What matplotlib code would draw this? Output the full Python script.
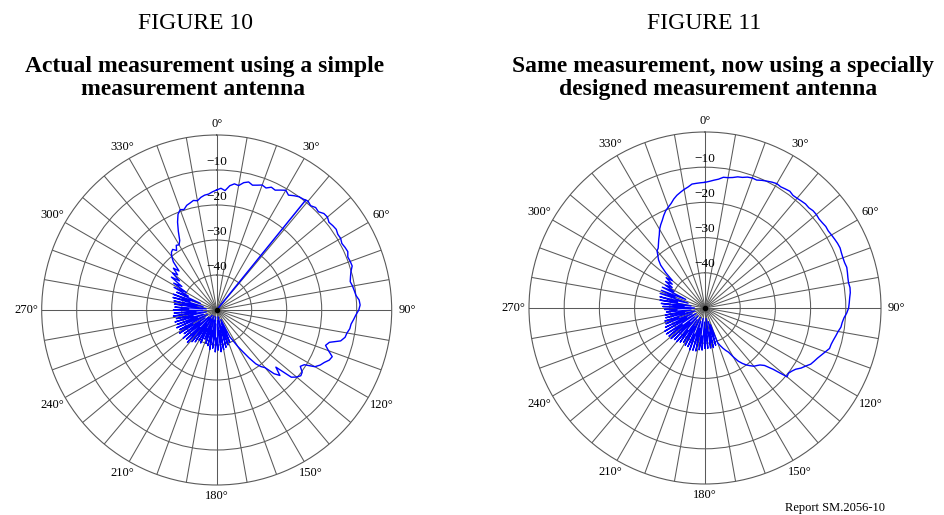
import numpy as np
import matplotlib
matplotlib.use('Agg')
import matplotlib.pyplot as plt

plt.rcParams['font.family'] = ['Liberation Serif', 'DejaVu Serif']

# Azimuth grid of the measurements (degrees, clockwise from north)
angles_deg = list(range(0, 360, 2))

# FIGURE 10: simple measurement antenna (dB)
fig10_db = [
    -15.7, -15.2, -15.8, -14.3, -13.6, -13.9, -12.8, -12.3, -12.9, -12.5,
    -12.0, -12.4, -11.6, -11.9, -11.2, -10.5, -11.3, -10.6, -10.0, -9.8,
    -9.4, -9.9, -9.3, -9.6, -8.8, -8.7, -9.3, -9.0, -8.8, -9.2,
    -9.1, -9.5, -9.2, -9.0, -9.6, -9.4, -9.3, -10.1, -10.6, -11.0,
    -10.6, -10.3, -10.0, -9.2, -9.0, -9.4, -10.2, -10.8, -11.4, -11.6,
    -12.2, -12.5, -13.5, -16.5, -17.3, -16.0, -14.4, -14.8, -15.8, -16.5,
    -17.6, -20.5, -21.2, -19.8, -19.5, -20.2, -21.3, -26.5, -24.0, -25.5,
    -28.5, -29.5, -31.0, -33.5, -36.0, -38.0, -40.0, -41.5,
    # back lobe, 156 deg onwards
    -47.0, -40.0, -46.0, -39.5, -45.0, -39.0, -48.0, -38.5, -44.0, -38.0,
    -47.0, -38.5, -42.0, -38.0, -46.0, -39.0, -48.0, -38.5, -44.0, -39.5,
    -47.0, -40.0, -45.0, -41.0, -48.0, -39.5, -44.0, -40.0, -47.0, -39.0,
    -45.0, -38.5, -48.0, -37.5, -43.0, -38.0, -47.0, -37.5, -44.0, -38.5,
    -46.0, -37.5, -42.0, -38.0, -47.0, -37.5, -44.0, -38.0, -46.0, -37.6,
    -43.0, -38.2, -47.0, -37.5, -44.0, -37.8, -46.0, -37.6, -42.0, -38.0,
    -47.0, -37.8, -44.0, -37.5, -46.0, -37.0, -42.0, -36.8, -45.0, -37.5,
    -41.0, -36.2, -40.0,
    # 302 deg onwards
    -35.5, -38.0, -34.0, -36.5, -33.5, -35.0, -32.8, -34.5, -31.5, -30.0,
    -29.0, -28.6, -29.5, -28.2, -28.5, -27.5, -25.0, -22.5, -20.5, -19.5,
    -19.8, -18.9, -18.5, -18.0, -18.3, -17.5, -17.0, -16.8, -16.2,
]
# single receiver dropout, seen as a radial line in Figure 10
fig10_dropout_deg = 39
fig10_dropout_db = -9.6

# FIGURE 11: specially designed measurement antenna (dB)
fig11_db = [
    -14.3, -14.0, -13.6, -13.2, -12.5, -12.4, -12.1, -11.6, -11.4, -10.9,
    -10.7, -10.8, -10.3, -9.9, -9.5, -9.2, -9.4, -9.2, -9.0, -9.4,
    -9.3, -9.1, -8.9, -9.0, -8.7, -8.7, -8.9, -8.8, -8.6, -8.7,
    -8.5, -8.3, -8.1, -8.0, -8.2, -8.3, -8.3, -8.1, -8.3, -8.5,
    -8.6, -8.4, -8.5, -8.8, -9.0, -9.2, -9.7, -10.4, -10.8, -11.0,
    -11.6, -12.0, -12.4, -12.7, -12.8, -13.6, -14.3, -15.0, -15.5, -16.0,
    -17.0, -17.8, -18.9, -19.5, -19.9, -19.6, -24.0, -26.5, -27.5, -28.0,
    -28.4, -29.2, -30.0, -31.0, -32.2, -34.0, -35.8, -36.6, -37.5, -38.5,
    -39.5,
    # back lobe, 162 deg onwards
    -45.0, -39.0, -46.0, -38.5, -43.0, -38.5, -47.0, -38.5, -44.0, -38.5,
    -46.0, -38.0, -42.0, -38.0, -47.0, -37.5, -44.0, -37.5, -46.0, -37.3,
    -42.0, -38.0, -47.0, -38.0, -44.0, -38.5, -46.0, -38.0, -42.0, -37.5,
    -47.0, -37.5, -44.0, -37.0, -46.0, -37.0, -42.0, -36.8, -47.0, -36.8,
    -44.0, -37.5, -46.0, -38.0, -42.0, -38.0, -47.0, -38.5, -44.0, -38.5,
    -46.0, -39.0, -42.0, -38.5, -47.0, -38.0, -44.0, -37.5, -46.0, -37.0,
    -42.0, -36.8, -45.0, -36.6, -41.0, -36.6, -44.0, -36.5, -40.0, -37.0,
    # 302 deg onwards
    -39.0, -36.5, -38.5, -36.0, -37.9, -35.0, -32.5, -31.0, -30.0, -28.8,
    -28.4, -27.5, -26.5, -25.5, -24.2, -23.2, -22.3, -21.2, -20.2, -19.5,
    -18.8, -17.8, -17.0, -16.4, -15.8, -15.3, -14.6, -14.5, -14.4,
]

ring_levels = [-40, -30, -20, -10]
ring_labels = ['\u221240', '\u221230', '\u221220', '\u221210']
spoke_step = 10
label_angles = list(range(0, 360, 30))

R_MIN, R_MAX = -50, 0
W, H = 944, 515


def draw_pattern(fig, rect, values, dropout=None):
    """Draw one polar antenna pattern in the given pixel rect."""
    x0, y0, size = rect
    ax = fig.add_axes([x0 / W, y0 / H, size / W, size / H], projection='polar')
    ax.set_theta_zero_location('N')
    ax.set_theta_direction(-1)
    ax.set_ylim(R_MIN, R_MAX)

    ax.set_xticks(np.deg2rad(np.arange(0, 360, spoke_step)))
    ax.set_xticklabels([])
    ax.set_yticks(ring_levels)
    ax.set_yticklabels([])
    ax.grid(True, color='#5a5a5a', linewidth=0.75)
    ax.spines['polar'].set_color('#5a5a5a')
    ax.spines['polar'].set_linewidth(0.8)

    th = np.deg2rad(angles_deg + [angles_deg[0]])
    r = list(values) + [values[0]]
    ax.plot(th, r, color='#0000ff', linewidth=1.0, zorder=3)

    if dropout is not None:
        a, v = dropout
        ax.plot([np.deg2rad(a)] * 2, [R_MIN, v], color='#0000ff', linewidth=1.1, zorder=3)

    ax.plot([0], [R_MIN], 'o', color='black', markersize=3, zorder=4)

    for lev, lab in zip(ring_levels, ring_labels):
        ax.text(0, lev + 2.4, lab, ha='center', va='center', fontsize=9.5, zorder=5)

    for a in label_angles:
        t = np.deg2rad(a)
        ax.text(t, 3.2 + 1.3 * abs(np.sin(t)), f'{a}\u00b0', ha='center', va='center',
                fontsize=9, clip_on=False)
    return ax


fig = plt.figure(figsize=(W / 100, H / 100), dpi=100)

draw_pattern(fig, (41.7, 30, 350), fig10_db, (fig10_dropout_deg, fig10_dropout_db))
draw_pattern(fig, (529, 31, 352), fig11_db)

fig.text(195 / W, 1 - 29 / H, 'FIGURE 10', ha='center', va='baseline', fontsize=17)
fig.text(205 / W, 1 - 72 / H, 'Actual measurement using a simple',
         ha='center', va='baseline', fontsize=17, fontweight='bold')
fig.text(193 / W, 1 - 95 / H, 'measurement antenna',
         ha='center', va='baseline', fontsize=17, fontweight='bold')

fig.text(704 / W, 1 - 29 / H, 'FIGURE 11', ha='center', va='baseline', fontsize=17)
fig.text(723 / W, 1 - 72 / H, 'Same measurement, now using a specially',
         ha='center', va='baseline', fontsize=17, fontweight='bold')
fig.text(718 / W, 1 - 95 / H, 'designed measurement antenna',
         ha='center', va='baseline', fontsize=17, fontweight='bold')

fig.text(785 / W, 1 - 511 / H, 'Report SM.2056-10', ha='left', va='baseline', fontsize=9)

fig.savefig('out.png', dpi=100)
